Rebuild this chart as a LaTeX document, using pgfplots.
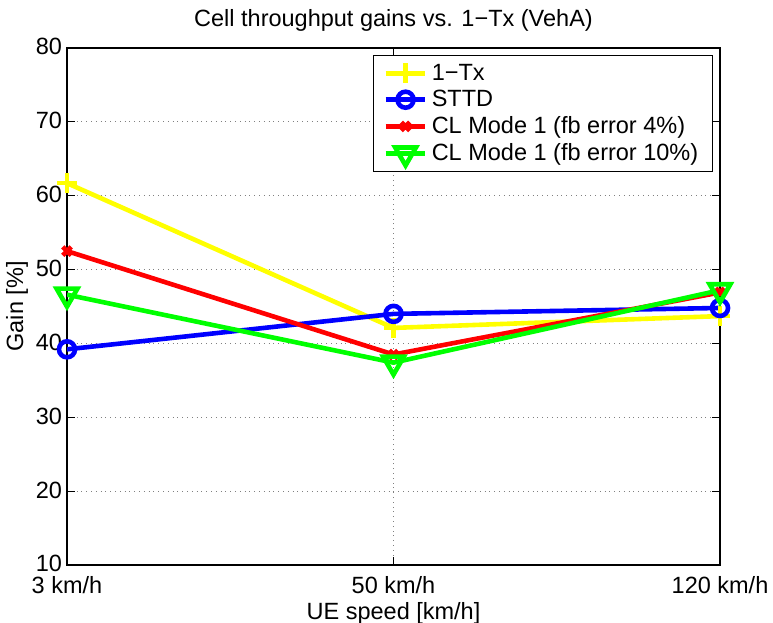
\documentclass[border=0pt]{standalone}
\usepackage{pgfplots}
\pgfplotsset{compat=1.18}
\usepackage{fontspec}
\setmainfont{Liberation Sans}

\definecolor{mgreen}{RGB}{0,255,0}
\definecolor{myellow}{RGB}{255,255,0}

\newcommand{\chartfont}{\fontsize{11.75}{14}\selectfont}

\begin{document}
\begin{tikzpicture}
\begin{axis}[
  name=ax,
  scale only axis,
  width=326.5pt, height=258.5pt,
  xmin=0, xmax=2, ymin=10, ymax=80,
  xtick={0,1,2},
  xticklabels={3 km/h,50 km/h,120 km/h},
  ytick={10,20,...,80},
  tick align=inside,
  major tick length=4pt,
  xtick pos=both, ytick pos=both,
  grid=major,
  major grid style={dotted, gray, line width=0.6pt},
  axis line style={line width=0.6pt},
  tick style={line width=0.6pt, black},
  /pgf/number format/assume math mode=true,
  ticklabel style={font=\chartfont},
  xticklabel style={yshift=-2.2pt},
  yticklabel style={xshift=1pt, yshift=0.6pt},
  label style={font=\chartfont},
  title style={font=\chartfont, yshift=-1pt},
  title={Cell throughput gains vs. 1−Tx (VehA)},
  xlabel={UE speed [km/h]},
  ylabel={Gain [\%]},
  xlabel style={yshift=2.5pt},
  ylabel style={yshift=-3pt},
  legend style={
    at={(0.989,0.986)}, anchor=north east,
    font=\chartfont,
    draw=black, line width=0.6pt,
    row sep=-0.5pt,
    inner xsep=5pt, inner ysep=2pt,
    legend cell align=left,
    /tikz/every even column/.append style={column sep=2pt},
  },
  legend image code/.code={
    \draw[#1] (0cm,0cm) -- (0.35cm,0cm) -- (0.7cm,0cm);
    \draw[#1,only marks] plot coordinates {(0.35cm,0cm)};
  },
  every axis plot/.append style={line width=2.3pt},
]
\addplot[myellow, mark=+, mark size=5pt, mark options={line width=2.3pt}]
  coordinates {(0,61.7) (1,42.1) (2,43.7)};
\addlegendentry{1−Tx}
\addplot[blue, mark=o, mark size=4pt, mark options={line width=2.3pt, fill=white}]
  coordinates {(0,39.2) (1,44.0) (2,44.8)};
\addlegendentry{STTD}
\addplot[red, mark=x, mark size=3pt, mark options={line width=2.3pt}]
  coordinates {(0,52.5) (1,38.5) (2,46.9)};
\addlegendentry{CL Mode 1 (fb error 4\%)}
\addplot[mgreen, mark=triangle, mark size=6pt, mark options={line width=2.3pt, rotate=180, fill=white}]
  coordinates {(0,46.6) (1,37.4) (2,47.2)};
\addlegendentry{CL Mode 1 (fb error 10\%)}
\end{axis}
\pgfresetboundingbox
\path ([shift={(-33.5pt,-29pt)}]ax.south west) rectangle ([shift={(26.5pt,24pt)}]ax.north east);
\end{tikzpicture}
\end{document}
